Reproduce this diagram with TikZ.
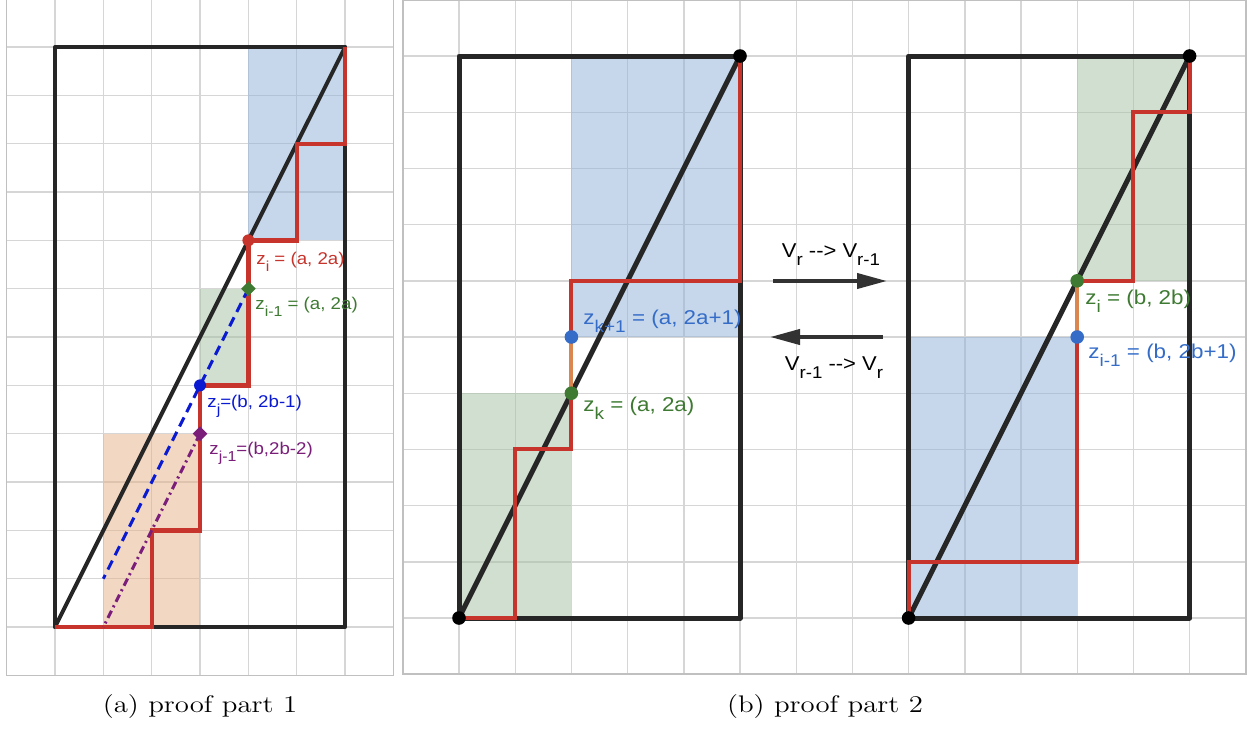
\documentclass[tikz,border=0pt]{standalone}
\usepackage{fontspec}
\usepackage{graphicx}
\usetikzlibrary{arrows.meta,shapes.geometric}
\newfontfamily\labfont{Liberation Sans}
\newcommand\gsub[1]{\raisebox{-0.42em}{\scalebox{0.85}{#1}}}
\newcommand\ddash{-\kern0pt-}
\definecolor{cblack}{RGB}{38,38,38}
\definecolor{cred}{RGB}{198,52,44}
\definecolor{cgrid}{RGB}{214,214,214}
\definecolor{cframe}{RGB}{192,192,192}
\definecolor{cbluefill}{RGB}{143,177,217}
\definecolor{cgreenfill}{RGB}{165,193,163}
\definecolor{corangefill}{RGB}{231,177,137}
\definecolor{cgreen}{RGB}{62,122,50}
\definecolor{cbluea}{RGB}{10,25,210}
\definecolor{cblueb}{RGB}{52,108,200}
\definecolor{cpurple}{RGB}{122,30,122}
\definecolor{corange}{RGB}{218,134,78}
\definecolor{carrow}{RGB}{50,50,50}
\tikzset{
  gridline/.style={draw=cgrid, line width=0.7pt},
  frameline/.style={draw=cframe, line width=0.8pt},
  bfill/.style={fill=cbluefill, fill opacity=0.5},
  gfill/.style={fill=cgreenfill, fill opacity=0.5},
  ofill/.style={fill=corangefill, fill opacity=0.5},
  blka/.style={draw=cblack, line width=2pt, line cap=round, line join=round},
  blkb/.style={draw=cblack, line width=2.5pt, line cap=round, line join=round},
  reda/.style={draw=cred, line width=2.2pt, line join=miter},
  redb/.style={draw=cred, line width=2pt, line join=miter},
  orangeseg/.style={draw=corange, line width=2pt},
  bluedash/.style={draw=cbluea, line width=1.5pt, dash pattern=on 5pt off 3pt},
  purpdash/.style={draw=cpurple, line width=1.5pt, dash pattern=on 4pt off 2pt on 1pt off 2pt},
  diam/.style={diamond, inner sep=0pt, minimum size=7.5pt},
  dota/.style={circle, inner sep=0pt, minimum size=6pt},
  dotb/.style={circle, inner sep=0pt, minimum size=6.8pt},
  laba/.style={font=\labfont\fontsize{8.5}{10}\selectfont, inner sep=0pt, anchor=base west},
  labb/.style={font=\labfont\fontsize{10}{12}\selectfont, inner sep=0pt, anchor=base west},
  arrlab/.style={font=\labfont\fontsize{10}{12}\selectfont, inner sep=0pt, anchor=base, text=black},
  bigarrow/.style={draw=carrow, line width=2pt, -{Triangle[length=15pt,width=7.5pt]}},
  caption/.style={font=\fontsize{12}{14}\selectfont, inner sep=0pt, anchor=base},
}
\begin{document}
\begin{tikzpicture}[x=0.5pt,y=-0.5pt]
\useasboundingbox (0,0) rectangle (1248,729);
\fill[white] (0,0) rectangle (1248,729);

% ---------------- panel (a) ----------------
\begin{scope}[shift={(55,627)},x=24.175pt,y=24.165pt]
  \foreach \i in {-1,...,7} \draw[gridline] (\i,-1) -- (\i,13);
  \foreach \j in {-1,...,13} \draw[gridline] (-1,\j) -- (7,\j);
  \draw[frameline] (-1,-1) rectangle (7,13);
  \fill[bfill] (4,8) rectangle (6,12);
  \fill[gfill] (3,5) rectangle (4,7);
  \fill[ofill] (1,0) rectangle (3,4);
  \coordinate (aO) at (0,0);
  \coordinate (aT) at (6,12);
  \draw[blka] (aO) rectangle (aT);
  \draw[blka] (aO) -- (aT);
  \draw[reda] (0,0) -- (2,0) -- (2,2) -- (3,2) -- (3,5) -- (4,5) -- (4,8) -- (5,8) -- (5,10) -- (6,10) -- (6,12);
  \coordinate (zi) at (4,8);
  \coordinate (zim) at (4,7);
  \coordinate (zj) at (3,5);
  \coordinate (zjm) at (3,4);
  \coordinate (bend) at (1,1);
  \coordinate (pend) at (1,0);
  \draw[bluedash] (zim) -- (bend);
  \draw[purpdash] (zjm) -- (pend);
  \node[dota, fill=cred] (dzi) at (zi) {};
  \node[diam, fill=cgreen] (dzim) at (zim) {};
  \node[dota, fill=cbluea] (dzj) at (zj) {};
  \node[diam, fill=cpurple] (dzjm) at (zjm) {};
\end{scope}
\node[laba, text=cred] (lzi) at (256,264) {\scalebox{1.1}[1]{z\gsub{i} = (a, 2a)}};
\node[laba, text=cgreen] (lzim) at (255,309) {\scalebox{1.1}[1]{z\gsub{i-1} = (a, 2a)}};
\node[laba, text=cbluea] (lzj) at (207,407) {\scalebox{1.1}[1]{z\gsub{j}=(b, 2b-1)}};
\node[laba, text=cpurple] (lzjm) at (209,454) {\scalebox{1.1}[1]{z\gsub{j-1}=(b,2b-2)}};

% ---------------- panel (b) ----------------
\begin{scope}[shift={(459,618)},x=28.1pt,y=28.1pt]
  \foreach \i in {-1,...,14} \draw[gridline] (\i,-1) -- (\i,11);
  \foreach \j in {-1,...,11} \draw[gridline] (-1,\j) -- (14,\j);
  \draw[frameline] (-1,-1) rectangle (14,11);
  \fill[bfill] (2,5) rectangle (5,10);
  \fill[gfill] (0,0) rectangle (2,4);
  \fill[gfill] (11,6) rectangle (13,10);
  \fill[bfill] (8,0) rectangle (11,5);
  \coordinate (bO1) at (0,0);
  \coordinate (bT1) at (5,10);
  \coordinate (bO2) at (8,0);
  \coordinate (bT2) at (13,10);
  \draw[blkb] (bO1) rectangle (bT1);
  \draw[blkb] (bO1) -- (bT1);
  \draw[blkb] (bO2) rectangle (bT2);
  \draw[blkb] (bO2) -- (bT2);
  \coordinate (zk) at (2,4);
  \coordinate (zkp) at (2,5);
  \coordinate (zib) at (11,6);
  \coordinate (zimb) at (11,5);
  \draw[redb] (0,0) -- (1,0) -- (1,3) -- (2,3) -- (zk);
  \draw[redb] (zkp) -- (2,6) -- (5,6) -- (5,10);
  \draw[orangeseg] (zk) -- (zkp);
  \draw[redb] (8,0) -- (8,1) -- (11,1) -- (zimb);
  \draw[redb] (zib) -- (12,6) -- (12,9) -- (13,9) -- (13,10);
  \draw[orangeseg] (zimb) -- (zib);
  \node[dotb, fill=black] (dO1) at (bO1) {};
  \node[dotb, fill=black] (dT1) at (bT1) {};
  \node[dotb, fill=black] (dO2) at (bO2) {};
  \node[dotb, fill=black] (dT2) at (bT2) {};
  \node[dotb, fill=cgreen] (dzk) at (zk) {};
  \node[dotb, fill=cblueb] (dzkp) at (zkp) {};
  \node[dotb, fill=cgreen] (dzib) at (zib) {};
  \node[dotb, fill=cblueb] (dzimb) at (zimb) {};
\end{scope}
\node[labb, text=cblueb] (lzkp) at (583,324) {\scalebox{1.12}[1]{z\gsub{k+1} = (a, 2a+1)}};
\node[labb, text=cgreen] (lzk) at (583,411) {\scalebox{1.12}[1]{z\gsub{k} = (a, 2a)}};
\node[labb, text=cgreen] (lzib) at (1085,304) {\scalebox{1.12}[1]{z\gsub{i} = (b, 2b)}};
\node[labb, text=cblueb] (lzimb) at (1088,358) {\scalebox{1.12}[1]{z\gsub{i-1} = (b, 2b+1)}};

% arrows between the two diagrams
\coordinate (ar1s) at (773,281);
\coordinate (ar1e) at (887,281);
\coordinate (ar2s) at (883,337);
\coordinate (ar2e) at (770,337);
\draw[bigarrow] (ar1s) -- (ar1e);
\draw[bigarrow] (ar2s) -- (ar2e);
\node[arrlab] (lar1) at (831,257) {\scalebox{1.1}[1]{V\gsub{r} \ddash> V\gsub{r-1}}};
\node[arrlab] (lar2) at (834,370) {\scalebox{1.1}[1]{V\gsub{r-1} \ddash> V\gsub{r}}};

% captions
\node[caption] (capa) at (200,712) {\scalebox{1.2}[1]{(a) proof part 1}};
\node[caption] (capb) at (825,712) {\scalebox{1.2}[1]{(b) proof part 2}};
\end{tikzpicture}
\end{document}
